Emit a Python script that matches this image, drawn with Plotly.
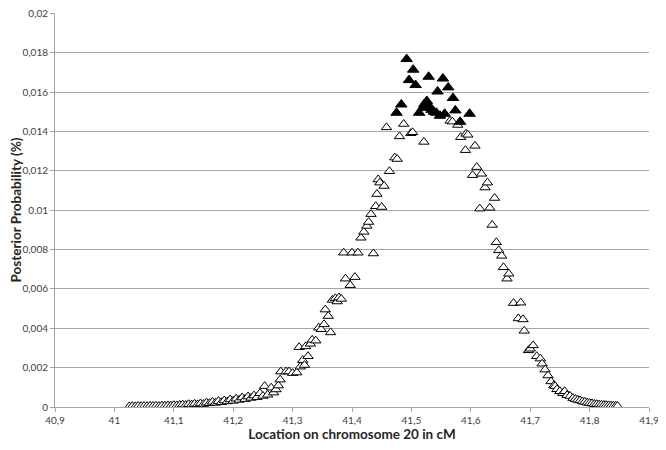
import plotly.graph_objects as go

# open triangles (all positions)
pos_open = [41.025, 41.030, 41.035, 41.040, 41.045, 41.050, 41.055, 41.060, 41.065, 41.070,
            41.075, 41.080, 41.085, 41.090, 41.095, 41.100, 41.105, 41.110, 41.115, 41.120,
            41.125, 41.130, 41.135, 41.140, 41.145, 41.150, 41.155, 41.160, 41.165, 41.170,
            41.175, 41.180, 41.185, 41.190, 41.195, 41.200, 41.205, 41.210, 41.215, 41.220,
            41.225, 41.230, 41.235, 41.240, 41.245, 41.250, 41.253, 41.258, 41.264, 41.268,
            41.272, 41.276, 41.279, 41.280, 41.289, 41.294, 41.300, 41.307, 41.311, 41.313,
            41.317, 41.320, 41.322, 41.326, 41.330, 41.333, 41.339, 41.344, 41.348, 41.353,
            41.355, 41.360, 41.364, 41.367, 41.372, 41.375, 41.378, 41.382, 41.386, 41.389,
            41.397, 41.400, 41.405, 41.410, 41.415, 41.420, 41.425, 41.428, 41.432, 41.436,
            41.440, 41.442, 41.444, 41.447, 41.450, 41.454, 41.458, 41.463, 41.472, 41.476,
            41.480, 41.487, 41.499, 41.502, 41.521, 41.565, 41.569, 41.578, 41.583, 41.591,
            41.592, 41.595, 41.603, 41.607, 41.610, 41.615, 41.618, 41.624, 41.628, 41.632,
            41.636, 41.640, 41.643, 41.647, 41.652, 41.655, 41.661, 41.664, 41.672, 41.680,
            41.684, 41.688, 41.690, 41.697, 41.700, 41.705, 41.711, 41.717, 41.720, 41.725,
            41.730, 41.735, 41.740, 41.742, 41.745, 41.750, 41.755, 41.758, 41.762, 41.767,
            41.772, 41.776, 41.780, 41.784, 41.788, 41.792, 41.796, 41.800, 41.804, 41.808,
            41.812, 41.816, 41.820, 41.824, 41.828, 41.832, 41.836, 41.840, 41.844, 41.847]
prob_open = [0.00003, 0.00004, 0.00003, 0.00005, 0.00004, 0.00005, 0.00004, 0.00006, 0.00005, 0.00006,
             0.00005, 0.00007, 0.00006, 0.00008, 0.00007, 0.00009, 0.00008, 0.00010, 0.00012, 0.00010,
             0.00014, 0.00012, 0.00016, 0.00013, 0.00018, 0.00015, 0.00022, 0.00019, 0.00026, 0.00021,
             0.00030, 0.00024, 0.00033, 0.00028, 0.00038, 0.00031, 0.00042, 0.00036, 0.00048, 0.00040,
             0.00053, 0.00046, 0.00058, 0.00050, 0.00070, 0.00056, 0.00106, 0.00062, 0.00098, 0.00073,
             0.00089, 0.00109, 0.00139, 0.00180, 0.00180, 0.00180, 0.00172, 0.00175, 0.00304, 0.00205,
             0.00238, 0.00213, 0.00308, 0.00258, 0.00321, 0.00341, 0.00337, 0.00403, 0.00395, 0.00420,
             0.00495, 0.00462, 0.00379, 0.00544, 0.00552, 0.00536, 0.00556, 0.00549, 0.00784, 0.00652,
             0.00619, 0.00784, 0.00660, 0.00784, 0.00860, 0.00890, 0.00920, 0.00940, 0.00980, 0.00780,
             0.01020, 0.01082, 0.01156, 0.01140, 0.01016, 0.01123, 0.01421, 0.01198, 0.01267, 0.01260,
             0.01375, 0.01438, 0.01391, 0.01396, 0.01347, 0.01454, 0.01450, 0.01433, 0.01371, 0.01305,
             0.01388, 0.01383, 0.01178, 0.01327, 0.01219, 0.01008, 0.01185, 0.01115, 0.01140, 0.01012,
             0.00925, 0.01062, 0.00837, 0.00796, 0.00768, 0.00710, 0.00652, 0.00677, 0.00528, 0.00450,
             0.00530, 0.00445, 0.00387, 0.00288, 0.00296, 0.00313, 0.00258, 0.00246, 0.00220, 0.00190,
             0.00160, 0.00130, 0.00110, 0.00106, 0.00090, 0.00080, 0.00070, 0.00080, 0.00060, 0.00056,
             0.00045, 0.00040, 0.00036, 0.00033, 0.00028, 0.00026, 0.00022, 0.00020, 0.00018, 0.00015,
             0.00014, 0.00012, 0.00011, 0.00010, 0.00009, 0.00008, 0.00007, 0.00006, 0.00006, 0.00005]

# filled triangles (highest posterior)
pos_top = [41.475, 41.483, 41.492, 41.496, 41.503, 41.507, 41.513, 41.519, 41.522, 41.526,
           41.529, 41.530, 41.534, 41.538, 41.542, 41.544, 41.548, 41.553, 41.556, 41.562,
           41.570, 41.574, 41.582, 41.598]
prob_top = [0.01495, 0.01537, 0.01768, 0.01661, 0.01714, 0.01636, 0.01495, 0.01520, 0.01540, 0.01555,
            0.01678, 0.01530, 0.01510, 0.01500, 0.01495, 0.01603, 0.01480, 0.01669, 0.01490, 0.01624,
            0.01570, 0.01507, 0.01449, 0.01490]

x_ticks = [40.9, 41.0, 41.1, 41.2, 41.3, 41.4, 41.5, 41.6, 41.7, 41.8, 41.9]
x_labels = ["40,9", "41", "41,1", "41,2", "41,3", "41,4", "41,5", "41,6", "41,7", "41,8", "41,9"]
y_ticks = [0, 0.002, 0.004, 0.006, 0.008, 0.01, 0.012, 0.014, 0.016, 0.018, 0.02]
y_labels = ["0", "0,002", "0,004", "0,006", "0,008", "0,01", "0,012", "0,014", "0,016", "0,018", "0,02"]

fig = go.Figure()
fig.add_trace(go.Scatter(
    x=pos_open, y=prob_open, mode='markers',
    marker=dict(symbol='triangle-up', size=9, color='white',
                line=dict(color='black', width=1)),
    showlegend=False
))
fig.add_trace(go.Scatter(
    x=pos_top, y=prob_top, mode='markers',
    marker=dict(symbol='triangle-up', size=10, color='black',
                line=dict(color='black', width=1)),
    showlegend=False
))

# the page body adds an 8px margin all round, so keep the figure inside 650x434
fig.update_layout(
    width=650, height=434,
    margin=dict(l=47, r=9, t=5, b=35),
    plot_bgcolor='white', paper_bgcolor='white',
    font=dict(family="Lato, Open Sans, sans-serif", color='#404040'),
)
fig.update_xaxes(
    range=[40.9, 41.9], tickvals=x_ticks, ticktext=x_labels,
    showgrid=False, zeroline=False, automargin=False, ticklabeloverflow='allow',
    showline=True, linecolor='#a6a6a6', linewidth=1,
    ticks='outside', ticklen=4, tickcolor='#a6a6a6',
    tickfont=dict(size=10, color='#404040'),
    title=dict(text="<b>Location on chromosome 20 in cM</b>", font=dict(size=13.5, color='#262626'), standoff=6),
)
fig.update_yaxes(
    range=[0, 0.02002], tickvals=y_ticks, ticktext=y_labels,
    showgrid=True, gridcolor='#a6a6a6', gridwidth=1, zeroline=False, automargin=False,
    ticklabeloverflow='allow',
    showline=True, linecolor='#a6a6a6', linewidth=1,
    ticks='outside', ticklen=4, tickcolor='#a6a6a6',
    tickfont=dict(size=10, color='#404040'),
    title=dict(text="<b>Posterior Probability (%)</b>", font=dict(size=13.5, color='#262626'), standoff=4),
)

fig.write_html("out.html")
